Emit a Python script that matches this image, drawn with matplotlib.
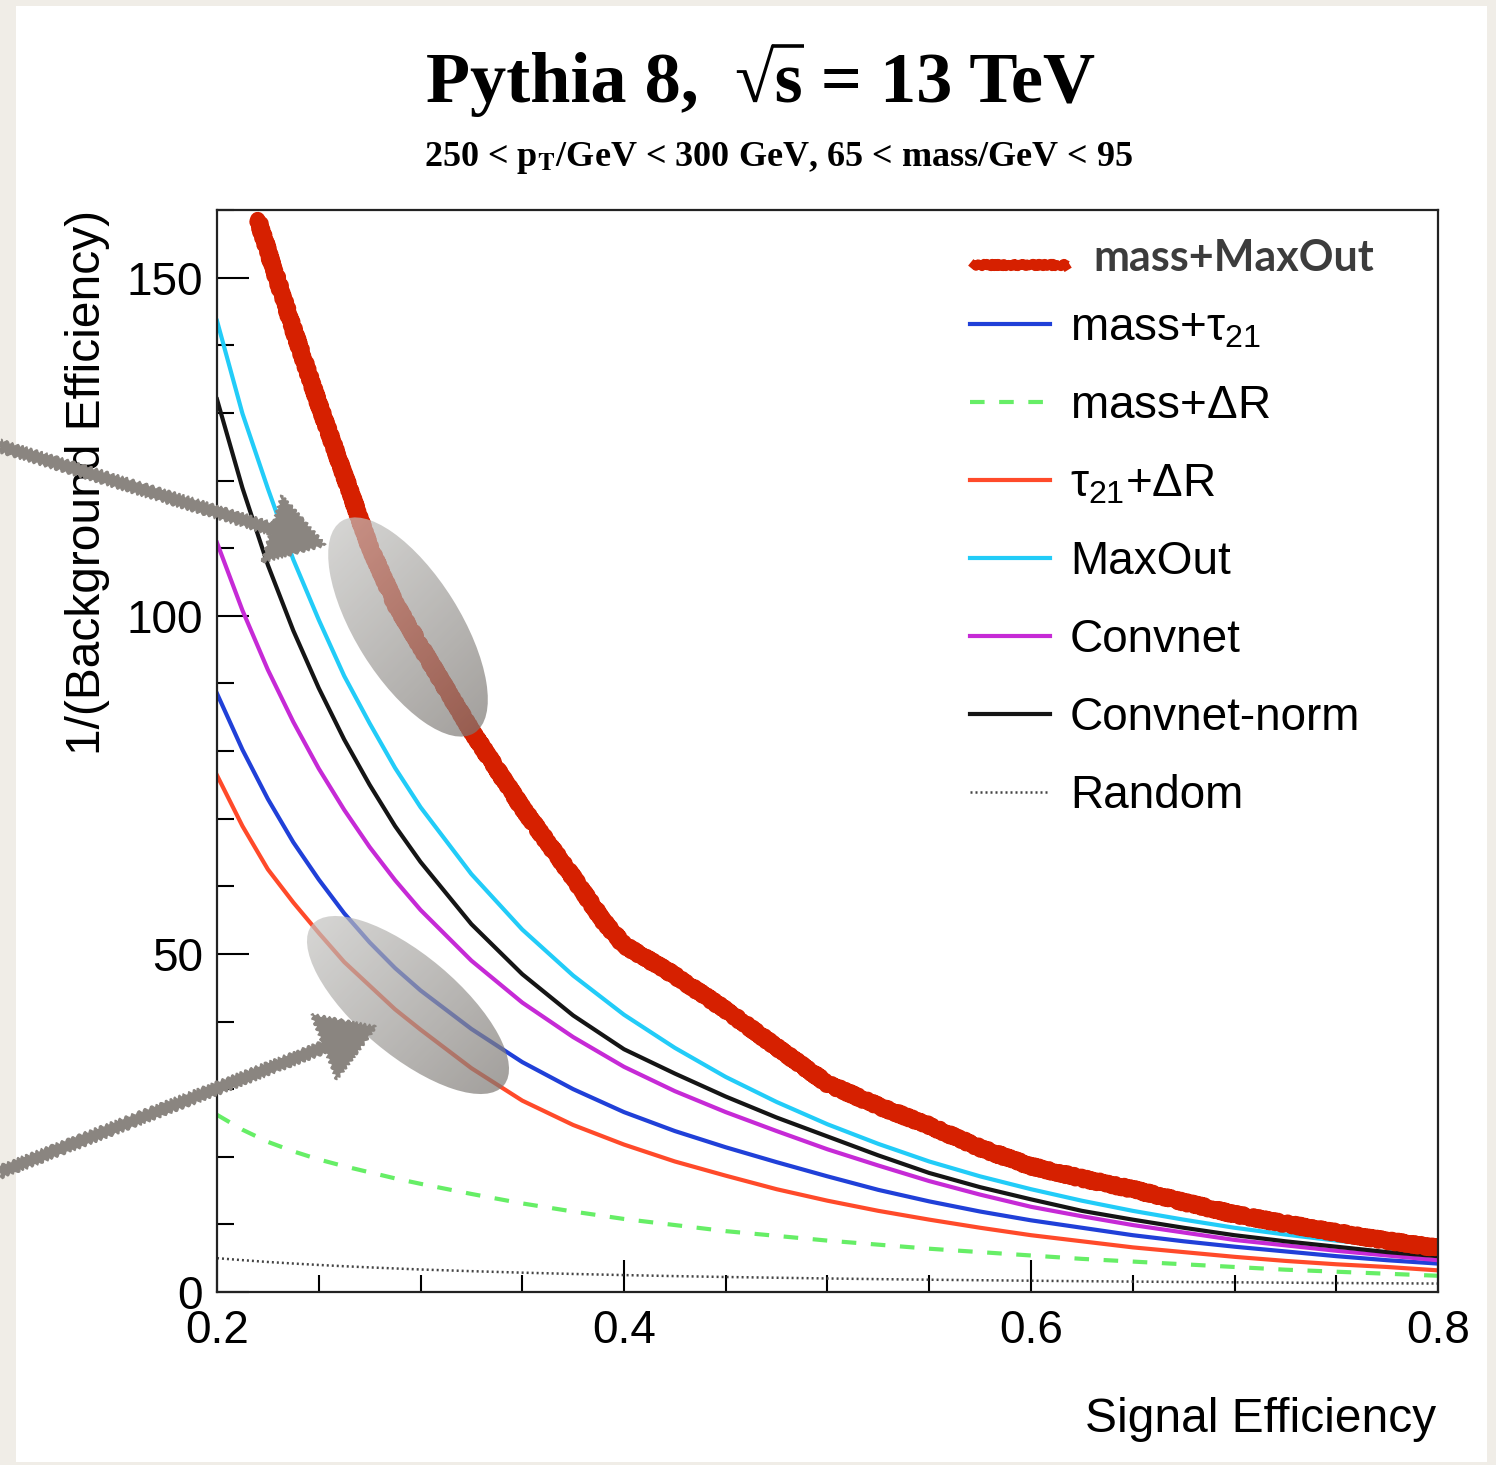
import numpy as np
import matplotlib
matplotlib.use('Agg')
import matplotlib.pyplot as plt
from matplotlib.patches import Ellipse, Rectangle, FancyArrowPatch
from matplotlib.colors import LinearSegmentedColormap
from matplotlib.ticker import MultipleLocator

plt.rcParams['font.family'] = ['Liberation Sans', 'DejaVu Sans']
plt.rcParams['mathtext.fontset'] = 'custom'
plt.rcParams['mathtext.rm'] = 'Liberation Sans'
plt.rcParams['mathtext.it'] = 'Liberation Sans'
plt.rcParams['mathtext.bf'] = 'Liberation Sans:bold'

# signal efficiency
sig_eff = [0.2, 0.2125, 0.225, 0.2375, 0.25, 0.2625, 0.275, 0.2875, 0.3,
           0.325, 0.35, 0.375, 0.4, 0.425, 0.45, 0.475, 0.5, 0.525, 0.55,
           0.575, 0.6, 0.625, 0.65, 0.675, 0.7, 0.725, 0.75, 0.775, 0.8]

# 1/(background efficiency) per classifier
maxout = [143.6, 129.9, 118.8, 108.3, 99.4, 91.1, 84.1, 77.5, 71.7,
          61.8, 53.6, 46.8, 41.0, 36.1, 31.8, 28.1, 24.8, 21.9, 19.3,
          17.1, 15.2, 13.5, 12.0, 10.7, 9.5, 8.5, 7.6, 6.8, 6.0]
convnet_norm = [132, 118.9, 107.5, 97.8, 89.3, 81.7, 75.0, 68.9, 63.6,
                54.4, 47.0, 40.9, 35.9, 32.3, 28.9, 25.8, 23.0, 20.2, 17.6,
                15.5, 13.7, 12.0, 10.7, 9.5, 8.4, 7.5, 6.7, 5.9, 5.3]
convnet = [110.8, 100.8, 92.0, 84.3, 77.4, 71.3, 65.8, 60.9, 56.5,
           49.0, 42.8, 37.7, 33.3, 29.7, 26.6, 23.8, 21.1, 18.7, 16.4,
           14.4, 12.6, 11.2, 9.9, 8.8, 7.7, 6.9, 6.1, 5.4, 4.7]
mass_tau21 = [88.5, 80.2, 72.9, 66.5, 61.0, 56.0, 51.7, 47.9, 44.6,
              38.9, 34.0, 30.0, 26.6, 23.8, 21.4, 19.2, 17.1, 15.1, 13.4,
              11.9, 10.6, 9.5, 8.4, 7.5, 6.7, 6.0, 5.3, 4.7, 4.2]
tau21_dr = [76.4, 68.9, 62.5, 57.6, 53.1, 48.8, 45.3, 41.8, 38.8,
            33.1, 28.3, 24.7, 21.8, 19.3, 17.2, 15.2, 13.5, 12.0, 10.7,
            9.5, 8.4, 7.5, 6.6, 5.9, 5.2, 4.6, 4.1, 3.7, 3.2]
mass_dr = [26.2, 24.0, 22.2, 20.8, 19.6, 18.6, 17.7, 16.8, 16.0,
           14.5, 13.1, 11.9, 10.8, 9.9, 9.0, 8.3, 7.6, 7.0, 6.4,
           5.9, 5.4, 4.9, 4.5, 4.1, 3.7, 3.3, 3.0, 2.7, 2.4]
random_guess = [5.0, 4.71, 4.44, 4.21, 4.0, 3.81, 3.64, 3.48, 3.33,
                3.08, 2.86, 2.67, 2.5, 2.35, 2.22, 2.11, 2.0, 1.90, 1.82,
                1.74, 1.67, 1.6, 1.54, 1.48, 1.43, 1.38, 1.33, 1.29, 1.25]

# hand-drawn mass+MaxOut curve
mm_eff = [0.22, 0.2375, 0.25, 0.2625, 0.275, 0.2875, 0.3, 0.325, 0.35, 0.375,
          0.39, 0.4, 0.425, 0.45, 0.475, 0.5, 0.525, 0.55, 0.575, 0.6,
          0.625, 0.65, 0.675, 0.7, 0.725, 0.75, 0.775, 0.8]
mass_maxout = [158.6, 142.4, 131.3, 120.8, 110.2, 101.8, 95.5, 83.0, 71.6, 61.3,
               54.8, 51.3, 46.8, 41.7, 36.2, 30.8, 27.5, 24.6, 21.3, 18.6,
               16.8, 15.2, 13.3, 11.5, 10.1, 8.8, 7.6, 6.5]

x_ticks = [0.2, 0.4, 0.6, 0.8]
y_ticks = [0, 50, 100, 150]

W, H = 1496, 1465
fig = plt.figure(figsize=(W / 100, H / 100), dpi=100, facecolor='#f0ede7')

# white slide panel
bg = fig.add_axes([0, 0, 1, 1], zorder=0)
bg.set_xlim(0, W)
bg.set_ylim(H, 0)
bg.axis('off')
bg.add_patch(Rectangle((16, 6), 1471, 1456, facecolor='white', edgecolor='none'))

# main plot
x0, x1, ytop, ybot = 217, 1438, 210, 1292
ax = fig.add_axes([x0 / W, 1 - ybot / H, (x1 - x0) / W, (ybot - ytop) / H], zorder=1)

lw = 3.0
ax.plot(sig_eff, random_guess, color='#444444', lw=1.8, ls=(0, (0.8, 1.2)))
ax.plot(sig_eff, mass_dr, color='#66ee66', lw=3.0, ls=(0, (3.5, 3.5)))
ax.plot(sig_eff, tau21_dr, color='#ff4a2a', lw=lw)
ax.plot(sig_eff, mass_tau21, color='#2040d8', lw=lw)
ax.plot(sig_eff, convnet, color='#c62ad6', lw=lw)
ax.plot(sig_eff, convnet_norm, color='#151515', lw=lw)
ax.plot(sig_eff, maxout, color='#22ccf8', lw=lw)

# marker-style red stroke
for w_, sk in [(11, (2.0, 6, 3)), (8, (3.0, 3, 2)), (6, (2.5, 9, 4))]:
    ln, = ax.plot(mm_eff, mass_maxout, color='#d62000', lw=w_, solid_capstyle='round')
    ln.set_sketch_params(*sk)

ax.set_xlim(0.2, 0.8)
ax.set_ylim(0, 160)
ax.set_xticks(x_ticks)
ax.set_xticklabels([str(v) for v in x_ticks])
ax.set_yticks(y_ticks)
ax.xaxis.set_minor_locator(MultipleLocator(0.05))
ax.yaxis.set_minor_locator(MultipleLocator(10))
ax.tick_params(which='major', direction='in', length=23, width=1.5, labelsize=33, pad=10)
ax.tick_params(axis='x', which='major', pad=12)
ax.tick_params(which='minor', direction='in', length=12, width=1.5)
ax.tick_params(top=False, right=False, which='both')
for s in ax.spines.values():
    s.set_linewidth(1.6)
    s.set_color('#222222')

# overlay for text, legend and annotations (pixel coordinates)
ov = fig.add_axes([0, 0, 1, 1], zorder=2)
ov.set_facecolor('none')
ov.axis('off')
ov.set_xlim(0, W)
ov.set_ylim(H, 0)

# title with a hand-made square root bar
title_font = dict(fontsize=52, fontweight='bold', family='Liberation Serif')
head, root, tail = 'Pythia 8,  \u221a', 's', ' = 13 TeV'
t = ov.text(761, 102, head + root + tail, ha='center', va='baseline', **title_font)
rend = fig.canvas.get_renderer()
tb = t.get_window_extent(rend)


def text_width(s):
    tmp = ov.text(0, 0, s, **title_font)
    w_ = tmp.get_window_extent(rend).width
    tmp.remove()
    return w_


xa = tb.x0 + text_width(head)
xb = tb.x0 + text_width(head + root)
ov.plot([xa - 3, xb + 1], [46, 46], color='black', lw=2.6, solid_capstyle='butt')

ov.text(779, 166, r'250 < p$_{\mathbf{T}}$/GeV < 300 GeV, 65 < mass/GeV < 95', ha='center',
        va='baseline', fontsize=26, fontweight='bold', family='Liberation Serif',
        math_fontfamily='stix')
ov.text(88, 210, '1/(Background Efficiency)', rotation=90, ha='center', va='top', fontsize=34.5)
ov.text(1436, 1432, 'Signal Efficiency', ha='right', va='baseline', fontsize=34.5)

# legend
labels = [r'mass+$\tau_{21}$', r'mass+$\Delta$R', r'$\tau_{21}$+$\Delta$R', 'MaxOut',
          'Convnet', 'Convnet-norm', 'Random']
styles = [('#2040d8', '-', lw), ('#66ee66', (0, (3.5, 3.5)), 3.0), ('#ff4a2a', '-', lw),
          ('#22ccf8', '-', lw), ('#c62ad6', '-', lw), ('#151515', '-', lw),
          ('#444444', (0, (0.8, 1.2)), 1.8)]
for i, (lab, (c, ls, w_)) in enumerate(zip(labels, styles)):
    y = 324 + 78 * i
    ov.plot([970, 1050], [y, y], color=c, ls=ls, lw=w_)
    ov.text(1070, y + 16, lab, fontsize=33, va='baseline', ha='left')
for w_, sk in [(6, (2.0, 5, 3)), (4, (2.5, 3, 2))]:
    ln, = ov.plot([974, 1066], [265, 265], color='#d62000', lw=w_)
    ln.set_sketch_params(*sk)
ov.text(1093, 271, 'mass+MaxOut', fontsize=31, fontweight='bold', family='Lato',
        color='#3c3c3c', va='baseline', ha='left')

# shaded ellipses
shade = LinearSegmentedColormap.from_list('shade', ['#d2d2d0', '#6e6964'])
g = np.linspace(0, 1, 200)
grad = (g[None, :] + g[:, None]) / 2
for (cx, cy), w_, h_, ang in [((408, 627), 250, 105, 58), ((408, 1005), 250, 100, 40)]:
    e = Ellipse((cx, cy), w_, h_, angle=ang, facecolor='none', edgecolor='none')
    ov.add_patch(e)
    r = w_ / 2
    im = ov.imshow(grad, cmap=shade, extent=(cx - r, cx + r, cy + r, cy - r),
                   origin='upper', alpha=0.7, aspect='auto', zorder=3)
    im.set_clip_path(e)

# hand-drawn arrows
for tail_pt, head_pt in [((0, 446), (325, 545)), ((0, 1172), (376, 1027))]:
    a = FancyArrowPatch(tail_pt, head_pt,
                        arrowstyle='simple,head_length=40,head_width=50,tail_width=8',
                        mutation_scale=1, color='#8a8580', shrinkA=0, shrinkB=0, zorder=5)
    a.set_sketch_params(1.5, 6, 2)
    ov.add_patch(a)

ov.set_xlim(0, W)
ov.set_ylim(H, 0)

fig.savefig('out.png', dpi=100, facecolor=fig.get_facecolor())
